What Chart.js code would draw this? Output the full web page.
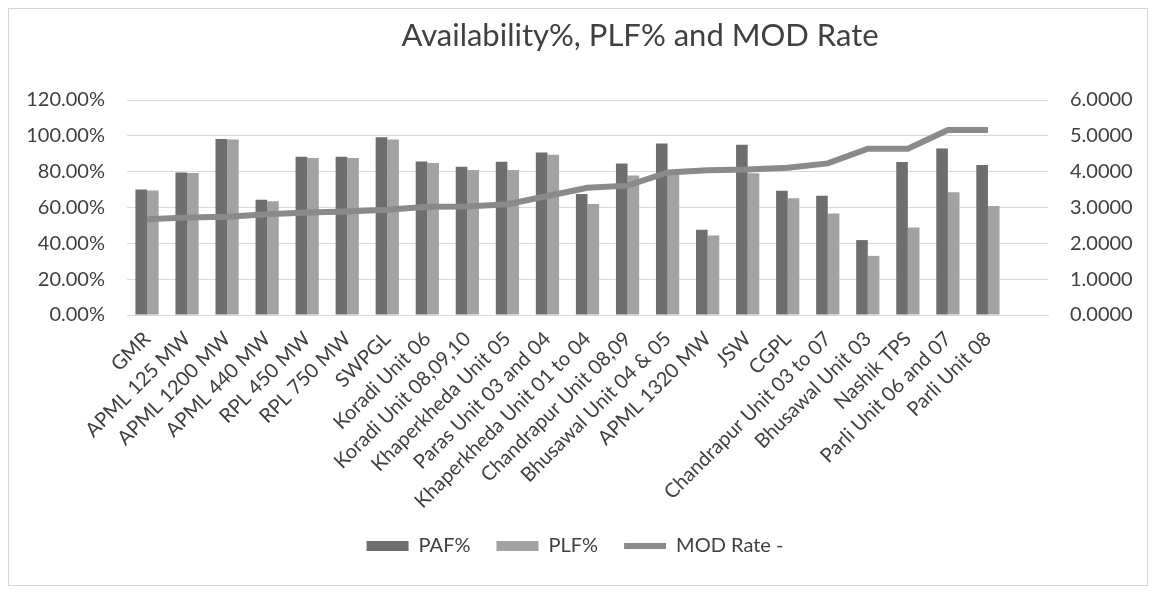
<!DOCTYPE html>
<html>
<head>
<meta charset="utf-8">
<script src="https://cdn.jsdelivr.net/npm/chart.js@4"></script>
<style>
    body { margin: 0; background: #fff; overflow: hidden; }
    #wrap { position: absolute; left: 0; top: 0; width: 1150px; height: 594px; }
    #frame { position: absolute; left: 8px; top: 8px; width: 1138px; height: 576px; border: 1px solid #d4d4d4; pointer-events: none; }
    #title { position: absolute; left: 0; width: 1280px; text-align: center; top: 17px; font: 31px Lato, sans-serif; color: #404040; white-space: nowrap; line-height: 34px; }
</style>
</head>
<body>
<div id="wrap"><canvas id="chart"></canvas></div>
<div id="frame"></div>
<div id="title">Availability%, PLF% and MOD Rate</div>

<script>
    // plant names (last slot is an empty category, as in the sheet)
    const plants = ['GMR', 'APML 125 MW', 'APML 1200 MW', 'APML 440 MW', 'RPL 450 MW', 'RPL 750 MW', 'SWPGL',
        'Koradi Unit 06', 'Koradi Unit 08,09,10', 'Khaperkheda Unit 05', 'Paras Unit 03 and 04',
        'Khaperkheda Unit 01 to 04', 'Chandrapur Unit 08,09', 'Bhusawal Unit 04 & 05', 'APML 1320 MW', 'JSW',
        'CGPL', 'Chandrapur Unit 03 to 07', 'Bhusawal Unit 03', 'Nashik TPS', 'Parli Unit 06 and 07',
        'Parli Unit 08', ''];

    // percent values
    const paf = [70.0, 79.5, 98.2, 64.3, 88.3, 88.3, 99.2, 85.7, 82.8, 85.6, 90.7, 67.6,
        84.6, 95.7, 47.6, 95.0, 69.3, 66.6, 41.8, 85.4, 93.0, 83.7, null];
    const plf = [69.5, 79.3, 98.0, 63.5, 87.6, 87.6, 98.0, 84.8, 80.9, 80.9, 89.4, 62.0,
        77.8, 80.9, 44.4, 79.1, 65.1, 56.6, 33.0, 48.8, 68.5, 60.9, null];

    // MOD rate, right axis
    const modRate = [2.67, 2.72, 2.74, 2.81, 2.86, 2.89, 2.94, 3.02, 3.03, 3.09, 3.32, 3.55,
        3.61, 3.98, 4.04, 4.06, 4.11, 4.23, 4.64, 4.64, 5.16, 5.16, null];

    const leftTicks = [0, 20, 40, 60, 80, 100, 120];
    const rightTicks = [0, 1, 2, 3, 4, 5, 6];

    const txt = '#404040';
    const gridCol = '#d9d9d9';

    new Chart(document.getElementById('chart'), {
        data: {
            labels: plants,
            datasets: [
                { type: 'bar', label: 'PAF%', data: paf, yAxisID: 'y', backgroundColor: '#6e6e6e',
                  borderWidth: 0, order: 1, pointStyle: 'rect' },
                { type: 'bar', label: 'PLF%', data: plf, yAxisID: 'y', backgroundColor: '#a2a2a2',
                  borderWidth: 0, order: 1, pointStyle: 'rect' },
                { type: 'line', label: 'MOD Rate -', data: modRate, yAxisID: 'y1', borderColor: '#8a8a8a',
                  backgroundColor: '#8a8a8a', borderWidth: 6, pointRadius: 0, tension: 0, order: 0,
                  pointStyle: 'line' }
            ]
        },
        options: {
            responsive: true,
            maintainAspectRatio: false,
            animation: false,
            categoryPercentage: 0.58,
            barPercentage: 1.0,
            layout: { padding: { left: 10, right: 10, top: 100, bottom: 28 } },
            plugins: {
                tooltip: { enabled: false },
                legend: {
                    position: 'bottom',
                    labels: {
                        sort: (a, b) => a.datasetIndex - b.datasetIndex,
                        usePointStyle: true,
                        pointStyleWidth: 42,
                        boxHeight: 10,
                        padding: 26,
                        color: txt,
                        font: { family: 'Lato', size: 20 }
                    }
                }
            },
            scales: {
                x: {
                    offset: true,
                    grid: { display: false },
                    border: { color: gridCol },
                    ticks: {
                        autoSkip: false, minRotation: 45, maxRotation: 45, padding: 4,
                        color: txt, font: { family: 'Lato', size: 20 }
                    },
                    afterFit(s) { s.height = 195; }
                },
                y: {
                    position: 'left',
                    min: 0, max: 120,
                    afterBuildTicks(s) { s.ticks = leftTicks.map(v => ({ value: v })); },
                    grid: { color: gridCol, drawTicks: false },
                    border: { display: false },
                    ticks: {
                        padding: 22, color: txt, font: { family: 'Lato', size: 20 },
                        callback: v => v.toFixed(2) + '%'
                    },
                    afterFit(s) { s.width = 117; }
                },
                y1: {
                    position: 'right',
                    min: 0, max: 6,
                    afterBuildTicks(s) { s.ticks = rightTicks.map(v => ({ value: v })); },
                    grid: { drawOnChartArea: false, drawTicks: false },
                    border: { display: false },
                    ticks: {
                        padding: 22, color: txt, font: { family: 'Lato', size: 20 },
                        callback: v => v.toFixed(4)
                    },
                    afterFit(s) { s.width = 92; }
                }
            }
        }
    });
</script>
</body>
</html>
